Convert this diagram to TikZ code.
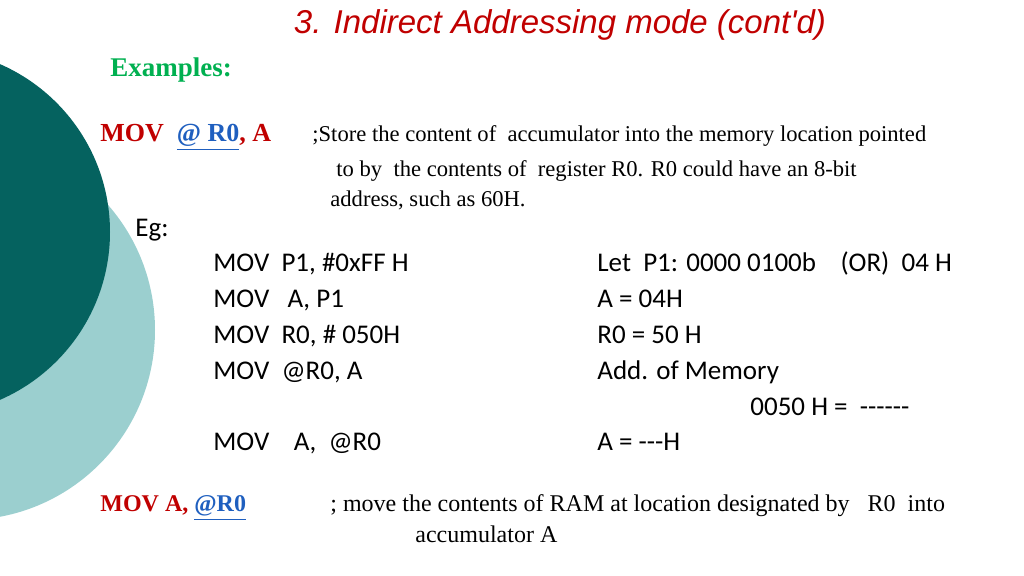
\documentclass[tikz,border=0pt]{standalone}
\usepackage{fontspec}
\setmainfont{Liberation Serif}
\newfontfamily\calfont{Carlito}
\newfontfamily\arialfont{Liberation Sans}
\usepackage{xcolor}
\definecolor{darkteal}{HTML}{05625F}
\definecolor{lightteal}{HTML}{9BCFCF}
\definecolor{titlered}{HTML}{C00000}
\definecolor{mygreen}{HTML}{00B050}
\definecolor{linkblue}{HTML}{1F5FBF}
\begin{document}
\begin{tikzpicture}[x=0.5pt,y=-0.5pt]
      \tikzstyle{code}=[anchor=base west, inner sep=0pt, font=\calfont\fontsize{13.5}{15}\selectfont]
      \tikzstyle{note}=[anchor=base west, inner sep=0pt, font=\fontsize{11.3}{13}\selectfont]
      \tikzstyle{instr}=[anchor=base west, inner sep=0pt, font=\bfseries\fontsize{13}{15}\selectfont, text=titlered]
      \useasboundingbox (0,0) rectangle (1024,576);

      % background discs
      \fill[lightteal] (-35,330) circle (190);
      \fill[darkteal] (-73,232) circle (183);

      \node (title) at (560,25) [inner sep=0pt, text=titlered, font=\arialfont\itshape\fontsize{16.5}{19}\selectfont] {3. Indirect Addressing mode (cont'd)};
      \node (examples) at (110,77) [anchor=base west, inner sep=0pt, text=mygreen, font=\bfseries\fontsize{13.5}{16}\selectfont] {Examples:};

      \node (instr1) at (100,142) [instr] {MOV \ \textcolor{linkblue}{\underline{@ R0}}, A};
      \node (note1a) at (312,142) [note] {;Store the content of\ \ accumulator into the memory location pointed};
      \node (note1b) at (336,177) [note] {to by\ \ the contents of\ \ register R0. R0 could have an 8-bit};
      \node (note1c) at (330,207) [note] {address, such as 60H.};

      \node (eg) at (135,237) [code] {Eg:};

      \node (c1) at (213,272) [code] {MOV\ \ P1, \#0xFF H};
      \node (c2) at (213,308) [code] {MOV\ \ \ A, P1};
      \node (c3) at (213,344) [code] {MOV\ \ R0, \# 050H};
      \node (c4) at (213,380) [code] {MOV\ \ @R0, A};
      \node (c5) at (213,451) [code] {MOV\ \ \ \ A,\ \ @R0};

      \node (r1) at (597,272) [code] {Let\ \ P1: 0000 0100b\ \ \ \ (OR)\ \ 04 H};
      \node (r2) at (597,308) [code] {A = 04H};
      \node (r3) at (597,344) [code] {R0 = 50 H};
      \node (r4) at (597,380) [code] {Add. of Memory};
      \node (r4b) at (750,416) [code] {0050 H =\ \ ------};
      \node (r5) at (597,451) [code] {A = ---H};

      \node (instr2) at (100,512) [instr, font=\bfseries\fontsize{12}{14}\selectfont] {MOV A, \textcolor{linkblue}{\underline{@R0}}};
      \node (note2a) at (330,512) [note, font=\fontsize{12}{14}\selectfont] {; move the contents of RAM at location designated by \ \ R0 \ into};
      \node (note2b) at (415,543) [note, font=\fontsize{12}{14}\selectfont] {accumulator A};
    \end{tikzpicture}
\end{document}
